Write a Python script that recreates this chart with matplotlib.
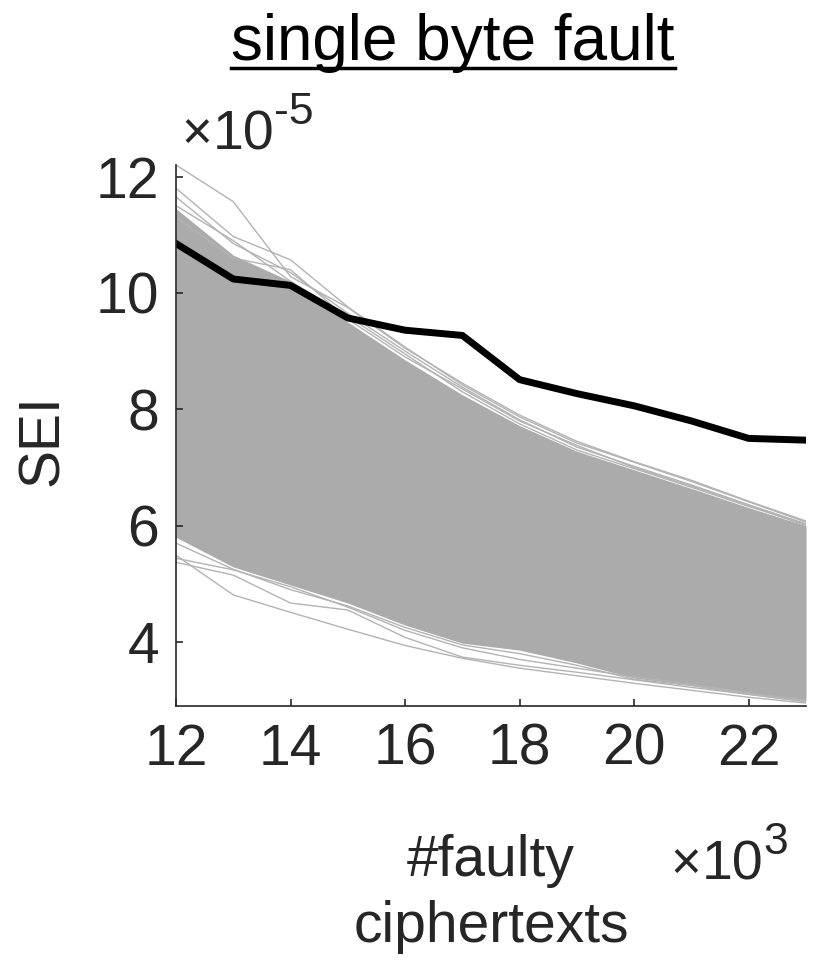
import numpy as np
import matplotlib
matplotlib.use('Agg')
import matplotlib.pyplot as plt
from matplotlib.lines import Line2D

plt.rcParams['font.family'] = ['Liberation Sans', 'DejaVu Sans']

# number of faulty ciphertexts (x 10^3)
n_faulty = [12, 13, 14, 15, 16, 17, 18, 19, 20, 21, 22, 23]

# SEI of the correct key hypothesis (x 10^-5)
sei_correct = [10.85, 10.24, 10.13, 9.57, 9.36, 9.27, 8.51, 8.27, 8.06, 7.80, 7.50, 7.47]

# dense part of the wrong key hypotheses (x 10^-5)
band_top = [11.45, 10.65, 10.20, 9.50, 8.85, 8.25, 7.72, 7.28, 6.96, 6.64, 6.31, 6.00]
band_bottom = [5.80, 5.29, 4.98, 4.67, 4.29, 3.98, 3.86, 3.64, 3.38, 3.26, 3.12, 3.00]

# single wrong key hypotheses at the edge of the band
wrong_top_1 = [12.20, 11.57, 10.28, 9.75, 9.05, 8.45, 7.90, 7.45, 7.10, 6.78, 6.42, 6.08]
wrong_top_2 = [11.80, 10.97, 10.57, 9.76, 9.07, 8.42, 7.87, 7.42, 7.09, 6.76, 6.41, 6.06]
wrong_top_3 = [11.65, 10.85, 10.35, 9.65, 9.00, 8.38, 7.82, 7.35, 7.02, 6.70, 6.36, 6.03]
wrong_top_4 = [11.50, 10.90, 10.20, 9.60, 8.95, 8.30, 7.75, 7.30, 6.98, 6.66, 6.33, 6.02]
wrong_top_5 = [11.30, 10.60, 10.40, 9.55, 8.90, 8.35, 7.80, 7.38, 7.00, 6.68, 6.35, 6.00]
wrong_bot_1 = [5.49, 4.81, 4.51, 4.22, 3.94, 3.72, 3.55, 3.42, 3.29, 3.17, 3.05, 2.95]
wrong_bot_2 = [5.37, 5.15, 4.67, 4.55, 4.08, 3.74, 3.60, 3.48, 3.35, 3.22, 3.10, 2.98]
wrong_bot_3 = [5.44, 5.24, 4.95, 4.60, 4.20, 3.90, 3.70, 3.55, 3.40, 3.27, 3.12, 3.00]
wrong_bot_4 = [5.70, 5.25, 4.90, 4.62, 4.25, 3.95, 3.80, 3.60, 3.36, 3.25, 3.10, 2.97]

wrong_lines = [wrong_top_1, wrong_top_2, wrong_top_3, wrong_top_4, wrong_top_5,
               wrong_bot_1, wrong_bot_2, wrong_bot_3, wrong_bot_4]

x_ticks = [12, 14, 16, 18, 20, 22]
y_ticks = [4, 6, 8, 10, 12]

axis_col = '#262626'
gray = '#ababab'
W, H = 821, 965

fig = plt.figure(figsize=(W/100, H/100), dpi=100)
ax = fig.add_axes([176/W, 1-706/H, 630/W, 541/H])

ax.fill_between(n_faulty, band_bottom, band_top, color=gray, lw=0)
for w in wrong_lines:
    ax.plot(n_faulty, w, color='#b3b3b3', lw=1.0)
ax.plot(n_faulty, sei_correct, color='black', lw=5)

ax.set_xlim(12, 23)
ax.set_ylim(2.9, 12.2)
ax.set_xticks(x_ticks)
ax.set_yticks(y_ticks)
ax.set_xticklabels([str(t) for t in x_ticks])
ax.set_yticklabels([str(t) for t in y_ticks])

for s in ['top', 'right']:
    ax.spines[s].set_visible(False)
for s in ['left', 'bottom']:
    ax.spines[s].set_color(axis_col)
    ax.spines[s].set_linewidth(1.2)
ax.tick_params(direction='in', length=5, width=1.2, color=axis_col,
               labelcolor=axis_col, labelsize=41, pad=12)

fig.text(43/W, 1-440/H, 'SEI', rotation=90, fontsize=41, color=axis_col,
         ha='center', va='center')
fig.text(491/W, 1-876/H, '#faulty', fontsize=41, color=axis_col,
         ha='center', va='baseline')
fig.text(491/W, 1-942/H, 'ciphertexts', fontsize=41, color=axis_col,
         ha='center', va='baseline')

title = fig.text(453/W, 1-60/H, 'single byte fault', fontsize=46,
                 color='black', ha='center', va='baseline')

fig.canvas.draw()
rend = fig.canvas.get_renderer()
inv = fig.transFigure.inverted()


def sci_label(x_px, base_px, expo):
    # "x10" with a raised exponent, like the MATLAB axis multiplier
    t1 = fig.text(x_px/W, 1-base_px/H, '\u00d7', fontsize=38, color=axis_col,
                  ha='left', va='baseline')
    x1 = inv.transform(t1.get_window_extent(rend))[1][0]
    t2 = fig.text(x1 + 1/W, 1-base_px/H, '10', fontsize=40, color=axis_col,
                  ha='left', va='baseline')
    x2 = inv.transform(t2.get_window_extent(rend))[1][0]
    fig.text(x2, 1-(base_px-26)/H, expo, fontsize=32, color=axis_col,
             ha='left', va='baseline')


sci_label(181, 150, '-5')
sci_label(670, 880, '3')

bb = title.get_window_extent(rend).transformed(inv)
y_ul = 1-68/H
fig.add_artist(Line2D([bb.x0, bb.x1], [y_ul, y_ul], color='black', lw=2.5,
                      transform=fig.transFigure))

fig.savefig('out.png', dpi=100)
